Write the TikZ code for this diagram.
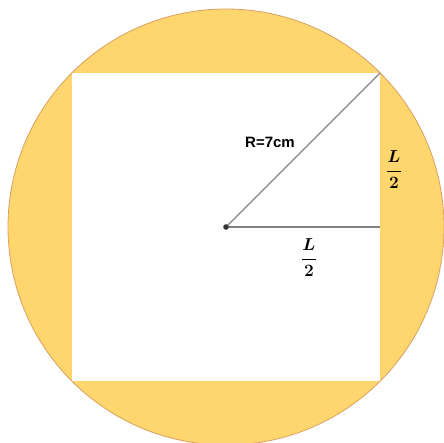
\documentclass[tikz,border=0pt]{standalone}
\usepackage{amsmath}
\usepackage{bm}
\usepackage{fontspec}
\setsansfont{Liberation Sans}
\usepackage{tikz}

\definecolor{disque}{RGB}{255,213,110}
\definecolor{bord}{RGB}{215,160,100}
\definecolor{trait}{RGB}{130,130,130}

\begin{document}
\begin{tikzpicture}[x=1pt, y=-1pt, every node/.style={inner sep=0pt}]
  \useasboundingbox (0,0) rectangle (444,443);
  % Circle and square
  \fill[disque, draw=bord, line width=0.8pt] (226,227) circle (218);
  \fill[white] (72,73) rectangle (380,381);

  % Points
  \coordinate (O) at (226,227);
  \coordinate (C) at (380,73);
  \coordinate (H) at (380,227);

  % Segments
  \draw[trait, line width=1.2pt] (O) -- (C);
  \draw[trait, line width=1.2pt] (O) -- (H);
  \fill[black!80] (O) circle (2.8);

  % Labels
  \node (rayon) at (270,142) {\fontsize{15}{17}\selectfont\sffamily\bfseries R=7cm};
  \node (demi1) at (394,170) {\fontsize{16}{18}\selectfont$\bm{\dfrac{L}{2}}$};
  \node (demi2) at (309,258) {\fontsize{16}{18}\selectfont$\bm{\dfrac{L}{2}}$};
\end{tikzpicture}
\end{document}
